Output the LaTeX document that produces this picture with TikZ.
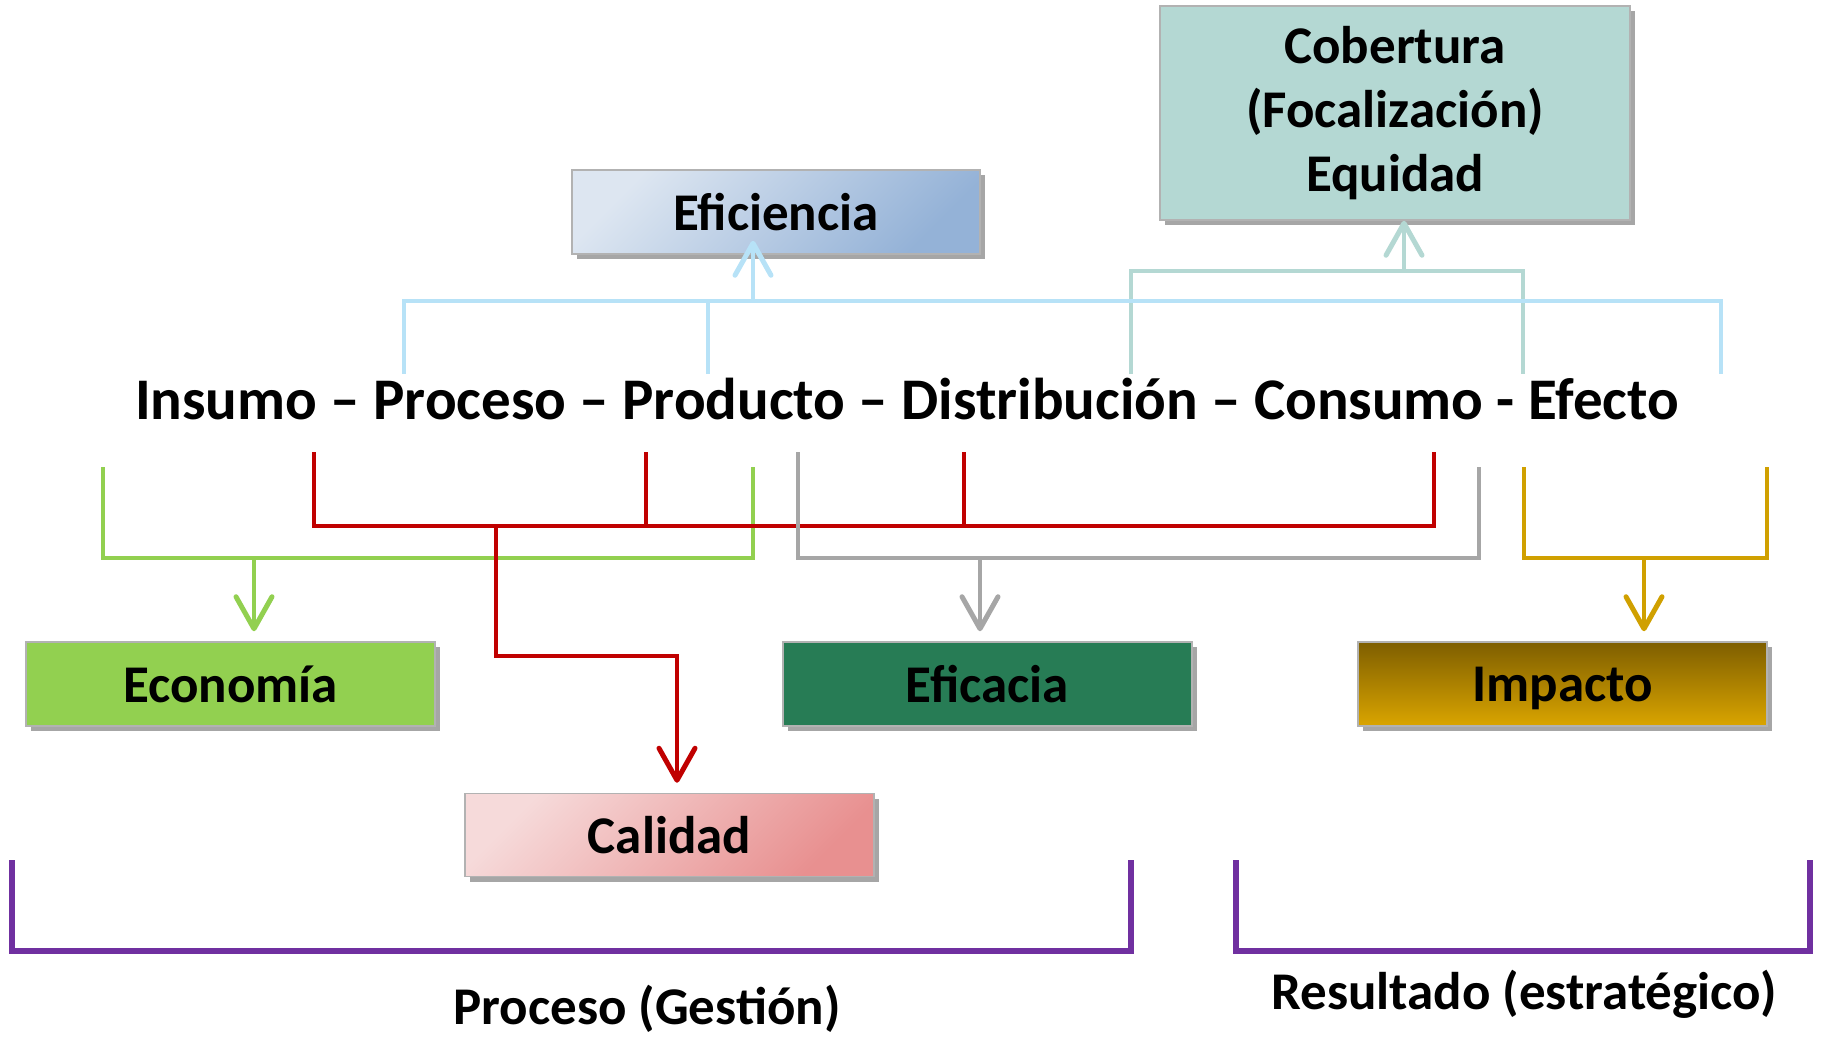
\documentclass[tikz,border=0pt]{standalone}
\usepackage{fontspec}
\setmainfont{Carlito}
\usetikzlibrary{arrows.meta,shadows}
\definecolor{lblue}{HTML}{B7E2F7}
\definecolor{teal2}{HTML}{B4D8D3}
\definecolor{grn}{HTML}{92D050}
\definecolor{rd}{HTML}{C00000}
\definecolor{gry}{HTML}{A6A6A6}
\definecolor{gold}{HTML}{D0A000}
\definecolor{purp}{HTML}{7030A0}
\definecolor{efiA}{HTML}{DDE6F1}
\definecolor{efiB}{HTML}{94B2D7}
\definecolor{calA}{HTML}{F6DADA}
\definecolor{calB}{HTML}{E89090}
\definecolor{impA}{HTML}{7E5E00}
\definecolor{impB}{HTML}{DAA500}
\definecolor{efcC}{HTML}{277C55}
\begin{document}
\begin{tikzpicture}[x=1pt,y=-1pt,
  box/.style={draw=black!30, line width=1.5pt, inner sep=0pt,
    minimum width=409pt, minimum height=84pt,
    font=\fontsize{53}{64}\selectfont\bfseries, align=center,
    drop shadow={shadow xshift=5pt,shadow yshift=-5pt,opacity=.35,fill=black}},
  conn/.style={line width=4.5pt},
  tipd/.style={-{Straight Barb[length=32pt,width=36pt,line width=5pt,round]}},
  lbl/.style={font=\fontsize{53}{64}\selectfont\bfseries},
]
\useasboundingbox (0,0) rectangle (1822,1036);

% boxes
\node[box, minimum width=408pt, top color=efiA, bottom color=efiB, shading angle=45] (efi) at (776,212) {Eficiencia};
\node[box, minimum width=470pt, minimum height=214pt, fill=teal2] (cob) at (1395,113) {Cobertura\\(Focalización)\\Equidad};
\node[box, fill=grn] (eco) at (230.5,684) {Economía};
\node[box, fill=efcC] (efc) at (987.5,684) {Eficacia};
\node[box, top color=impA, bottom color=impB, text depth=0pt] (imp) at (1562.5,684) {Impacto};
\node[box, minimum height=83pt, top color=calA, bottom color=calB, shading angle=45] (cal) at (669.5,835) {Calidad};

% main chain
\node[anchor=base, font=\fontsize{59}{72}\selectfont\bfseries] (chain) at (907,419)
  {Insumo – Proceso – Producto – Distribución – Consumo - Efecto};

% coordinates
\coordinate (lb1) at (404,374); \coordinate (lb2) at (708,374); \coordinate (lb3) at (1721,374); \coordinate (lbA) at (753,301);
\coordinate (te1) at (1131,374); \coordinate (te2) at (1523,374); \coordinate (teA) at (1404,271);
\coordinate (gr1) at (103,467); \coordinate (gr2) at (753,467); \coordinate (grA) at (254,558);
\coordinate (rd1) at (314,452); \coordinate (rd2) at (646,452); \coordinate (rd3) at (964,452); \coordinate (rd4) at (1434,452); \coordinate (rdA) at (496,526); \coordinate (rdB) at (677,656);
\coordinate (gy1) at (798,452); \coordinate (gy2) at (1479,467); \coordinate (gyA) at (980,558);
\coordinate (go1) at (1524,467); \coordinate (go2) at (1767,467); \coordinate (goA) at (1644,558);
\coordinate (pl1) at (12,860); \coordinate (pl2) at (1131,860); \coordinate (plm) at (571,951);
\coordinate (pr1) at (1236,860); \coordinate (pr2) at (1810,860); \coordinate (prm) at (1523,951);

% teal
\draw[conn, teal2] (te1) |- (teA) -| (te2);
\draw[conn, teal2, tipd] (teA) -- (teA |- cob.south);
% light blue
\draw[conn, lblue] (lb1) |- (lbA) -| (lb3);
\draw[conn, lblue] (lb2) -- (lb2 |- lbA);
\draw[conn, lblue, tipd, shorten >=-14pt] (lbA) -- (lbA |- efi.south);

% green
\draw[conn, grn] (gr1) |- (grA) -| (gr2);
\draw[conn, grn, tipd, shorten >=10pt] (grA) -- (grA |- eco.north);
% red
\draw[conn, rd] (rd1) |- (rdA) -| (rd4);
\draw[conn, rd] (rd2) -- (rd2 |- rdA);
\draw[conn, rd] (rd3) -- (rd3 |- rdA);
\draw[conn, rd, tipd, shorten >=10pt] (rdA) |- (rdB) -- (rdB |- cal.north);
% gray
\draw[conn, gry] (gy1) |- (gyA) -| (gy2);
\draw[conn, gry, tipd, shorten >=10pt] (gyA) -- (gyA |- efc.north);
% gold
\draw[conn, gold] (go1) |- (goA) -| (go2);
\draw[conn, gold, tipd, shorten >=10pt] (goA) -- (goA |- imp.north);

% purple brackets
\draw[line width=6pt, purp] (pl1) |- (plm) -| (pl2);
\draw[line width=6pt, purp] (pr1) |- (prm) -| (pr2);

\node[lbl] (lproc) at (647,1009) {Proceso (Gestión)};
\node[lbl] (lres) at (1524,994) {Resultado (estratégico)};
\end{tikzpicture}
\end{document}
